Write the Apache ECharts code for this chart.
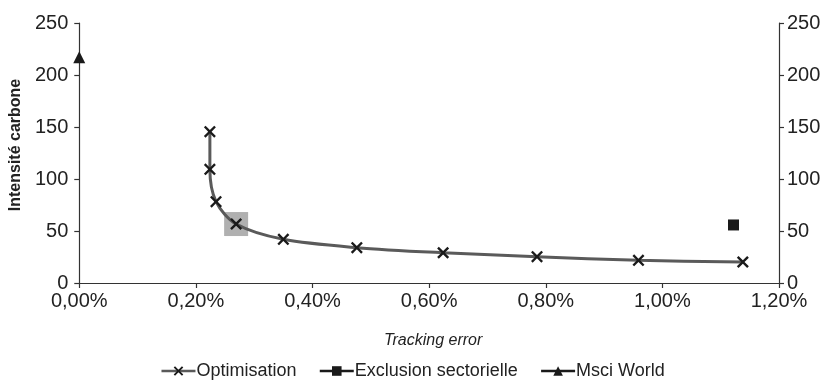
<!DOCTYPE html>
<html lang="fr">
<head>
    <meta charset="UTF-8">
    <title>Intensité carbone</title>
    <style>
        body,html{
            margin: 0;
            background: #fff;
        }
        #chart{
            width: 825px;
            height: 385px;
        }
    </style>
</head>
<body>

<div id="chart"></div>

<script src="https://cdn.jsdelivr.net/npm/echarts@6/dist/echarts.min.js"></script>
<script type="text/javascript">

    // tracking error en %, intensité carbone
    let optimX = [0.224, 0.224, 0.2345, 0.269, 0.350, 0.476, 0.624, 0.785, 0.959, 1.138];
    let optimY = [145.5, 109.3, 78.2, 56.7, 42, 34, 29.1, 25.3, 21.8, 20.2];
    let exclusionPoint = [1.122, 55.8];
    let msciPoint = [0, 217];
    let highlightPoint = [0.269, 56.7];   // portefeuille retenu (carré gris)

    let xTicks = {min: 0, max: 1.2, interval: 0.2};
    let yTicks = {min: 0, max: 250, interval: 50};

    let font = "'Liberation Sans', Arial, sans-serif";
    let crossPath = 'path://M0,1.4L1.4,0L5,3.6L8.6,0L10,1.4L6.4,5L10,8.6L8.6,10L5,6.4L1.4,10L0,8.6L3.6,5Z';

    let optimData = [];
    for(let i=0;i<optimX.length;i++){
        optimData.push([optimX[i], optimY[i]]);
    }

    let axisLine = {show: true, lineStyle: {color: '#333', width: 1.2}};
    let axisTick = {show: true, length: 5, lineStyle: {color: '#333', width: 1.2}};

    function yAxisOf(pos) {
        return {
            type: 'value',
            position: pos,
            min: yTicks.min,
            max: yTicks.max,
            interval: yTicks.interval,
            name: pos === 'left' ? 'Intensité carbone' : '',
            nameLocation: 'middle',
            nameGap: 53,
            nameTextStyle: {fontFamily: font, fontWeight: 'bold', fontSize: 16, color: '#222', padding: [0, 0, 0, 16]},
            axisLine: axisLine,
            axisTick: axisTick,
            splitLine: {show: false},
            axisLabel: {fontFamily: font, fontSize: 20, color: '#222', margin: pos === 'left' ? 11 : 8}
        };
    }

    let chart = echarts.init(document.getElementById('chart'), null, {renderer: 'canvas'});
    let option = {
        animation: false,
        grid: {left: 78, right: 46, top: 23, bottom: 102},
        legend: {
            data: ['Optimisation', 'Exclusion sectorielle', 'Msci World'],
            bottom: 0,
            left: 'center',
            itemWidth: 34,
            itemHeight: 12,
            itemGap: 22,
            lineStyle: {width: 2.5},
            textStyle: {fontFamily: font, fontSize: 18, color: '#222', padding: [0, 0, 0, -4]}
        },
        xAxis: {
            type: 'value',
            min: xTicks.min,
            max: xTicks.max,
            interval: xTicks.interval,
            name: 'Tracking error',
            nameLocation: 'middle',
            nameGap: 50,
            nameTextStyle: {fontFamily: font, fontStyle: 'italic', fontSize: 16, color: '#222', padding: [0, 0, 0, 8]},
            axisLine: axisLine,
            axisTick: axisTick,
            splitLine: {show: false},
            axisLabel: {
                fontFamily: font, fontSize: 20, color: '#222', margin: 8,
                formatter: function (v) {
                    return v.toFixed(2).replace('.', ',') + '%';
                }
            }
        },
        yAxis: [yAxisOf('left'), yAxisOf('right')],
        series: [
            {
                name: 'highlight',
                type: 'scatter',
                data: [highlightPoint],
                symbol: 'rect',
                symbolSize: 24,
                itemStyle: {color: '#9c9c9c'},
                z: 1,
                silent: true
            },
            {
                name: 'Optimisation',
                type: 'line',
                data: optimData,
                smooth: 0.3,
                symbol: crossPath,
                symbolSize: 12,
                showAllSymbol: true,
                lineStyle: {color: '#5a5a5a', width: 3},
                itemStyle: {color: '#1a1a1a'},
                z: 3
            },
            {
                name: 'Exclusion sectorielle',
                type: 'line',
                data: [exclusionPoint],
                symbol: 'rect',
                symbolSize: 11,
                lineStyle: {color: '#1a1a1a', width: 3},
                itemStyle: {color: '#1a1a1a'},
                z: 3
            },
            {
                name: 'Msci World',
                type: 'line',
                data: [msciPoint],
                symbol: 'triangle',
                symbolSize: 12,
                clip: false,
                lineStyle: {color: '#1a1a1a', width: 3},
                itemStyle: {color: '#1a1a1a'},
                z: 3
            }
        ]
    };
    chart.setOption(option);
</script>
</body>
</html>
